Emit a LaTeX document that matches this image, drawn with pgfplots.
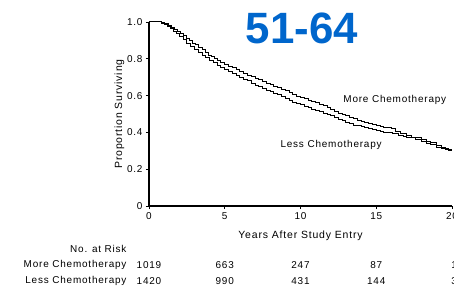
\documentclass[border=0pt]{standalone}
\usepackage{pgfplots}
\pgfplotsset{compat=1.18}
\usepackage{fontspec}
\setmainfont{Liberation Sans}
\newfontfamily\wide{Liberation Sans}[LetterSpace=8]
\definecolor{titleblue}{RGB}{0,102,204}
\newcommand\sm{\wide\fontsize{10}{12}\selectfont}
\begin{document}
\begin{tikzpicture}[x=1bp,y=1bp]
\begin{axis}[
  at={(0,0)}, anchor=south west,
  scale only axis, width=303bp, height=184bp,
  xmin=0, xmax=20, ymin=0, ymax=1,
  axis lines=left, axis line style={-, line width=1.1bp},
  xtick={0,5,10,15,20}, ytick={0,0.2,0.4,0.6,0.8,1.0},
  yticklabels={0,0.2,0.4,0.6,0.8,1.0},
  tick align=outside, major tick length=3bp,
  tick style={line width=0.8bp, black},
  tick label style={font=\sm},
  /pgf/number format/assume math mode=true,
  xlabel={Years After Study Entry},
  ylabel={Proportion Surviving},
  label style={font=\wide\fontsize{10.5}{12}\selectfont},
  xlabel style={at={(axis description cs:0.5,0)}, anchor=center, yshift=-30bp},
  ylabel style={yshift=-4bp},
  clip=false,
]
\addplot[const plot, black, line width=1bp] coordinates {
(0,1.0) (0.8,0.995) (1.05,0.99) (1.3,0.98) (1.5,0.97) (1.7,0.96) (1.9,0.95) (2.1,0.935) (2.3,0.925) (2.5,0.91) (2.7,0.9) (2.9,0.885) (3.1,0.875) (3.3,0.86) (3.5,0.85) (3.7,0.835) (3.9,0.82) (4.1,0.81) (4.3,0.8) (4.5,0.79) (4.75,0.78) (5.0,0.77) (5.25,0.76) (5.5,0.75) (5.75,0.74) (6.0,0.73) (6.25,0.72) (6.5,0.71) (6.75,0.703) (7.0,0.695) (7.25,0.685) (7.5,0.675) (7.75,0.668) (8.0,0.66) (8.25,0.652) (8.5,0.645) (8.75,0.635) (9.0,0.625) (9.25,0.615) (9.5,0.605) (9.75,0.597) (10,0.59) (10.25,0.582) (10.5,0.575) (10.75,0.567) (11,0.56) (11.25,0.552) (11.5,0.545) (11.75,0.535) (12,0.525) (12.25,0.515) (12.5,0.505) (12.75,0.497) (13,0.49) (13.25,0.482) (13.5,0.475) (13.75,0.467) (14,0.46) (14.25,0.455) (14.5,0.45) (14.75,0.445) (15,0.44) (15.25,0.432) (15.5,0.425) (16,0.42) (16.3,0.405) (16.6,0.395) (17,0.385) (17.3,0.375) (17.6,0.37) (18,0.36) (18.3,0.35) (18.6,0.345) (19,0.33) (19.3,0.32) (19.6,0.31) (19.8,0.305) (20,0.305)
};
\addplot[const plot, black, line width=1bp] coordinates {
(0,1.0) (0.8,0.993) (1.0,0.985) (1.2,0.975) (1.4,0.963) (1.6,0.95) (1.8,0.935) (2.0,0.92) (2.25,0.903) (2.5,0.885) (2.75,0.868) (3.0,0.85) (3.25,0.835) (3.5,0.82) (3.75,0.805) (4.0,0.79) (4.25,0.778) (4.5,0.765) (4.75,0.752) (5.0,0.74) (5.25,0.73) (5.5,0.72) (5.75,0.71) (6.0,0.70) (6.25,0.69) (6.5,0.68) (6.75,0.667) (7.0,0.655) (7.25,0.648) (7.5,0.64) (7.75,0.63) (8.0,0.62) (8.25,0.612) (8.5,0.605) (8.75,0.595) (9.0,0.585) (9.25,0.575) (9.5,0.565) (9.75,0.557) (10,0.55) (10.25,0.542) (10.5,0.535) (10.75,0.527) (11,0.52) (11.25,0.512) (11.5,0.505) (11.75,0.497) (12,0.49) (12.25,0.48) (12.5,0.47) (12.75,0.462) (13,0.455) (13.25,0.447) (13.5,0.44) (13.75,0.435) (14,0.43) (14.25,0.425) (14.5,0.42) (14.75,0.415) (15,0.41) (15.25,0.405) (15.5,0.40) (15.8,0.397) (16.1,0.392) (16.5,0.385) (16.8,0.38) (17,0.375) (17.3,0.37) (17.6,0.362) (18,0.35) (18.3,0.342) (18.6,0.335) (19,0.32) (19.3,0.313) (19.6,0.307) (19.8,0.30) (20,0.30)
};
\node[font=\sm, anchor=west] at (axis cs:12.6,0.576) {More Chemotherapy};
\node[font=\sm, anchor=west] at (axis cs:8.45,0.332) {Less Chemotherapy};
\node[font=\bfseries\fontsize{44}{48}\selectfont, text=titleblue] at (axis cs:10.1,0.965) {51-64};
% risk table
\node[font=\sm, anchor=east] at (-19bp,-43bp) {No. at Risk};
\node[font=\sm, anchor=east] at (-19bp,-59bp) {More Chemotherapy};
\node[font=\sm, anchor=east] at (-19bp,-75bp) {Less Chemotherapy};
\node[font=\sm] at (axis cs:0,-0.32) {1019};
\node[font=\sm] at (axis cs:5,-0.32) {663};
\node[font=\sm] at (axis cs:10,-0.32) {247};
\node[font=\sm] at (axis cs:15,-0.32) {87};
\node[font=\sm, anchor=west, inner sep=0pt] at (axis cs:19.95,-0.32) {16};
\node[font=\sm] at (axis cs:0,-0.407) {1420};
\node[font=\sm] at (axis cs:5,-0.407) {990};
\node[font=\sm] at (axis cs:10,-0.407) {431};
\node[font=\sm] at (axis cs:15,-0.407) {144};
\node[font=\sm, anchor=west, inner sep=0pt] at (axis cs:19.95,-0.407) {35};
\end{axis}
\pgfresetboundingbox
\path[use as bounding box] (-149bp,-85bp) rectangle (305bp,206bp);
\end{tikzpicture}
\end{document}
